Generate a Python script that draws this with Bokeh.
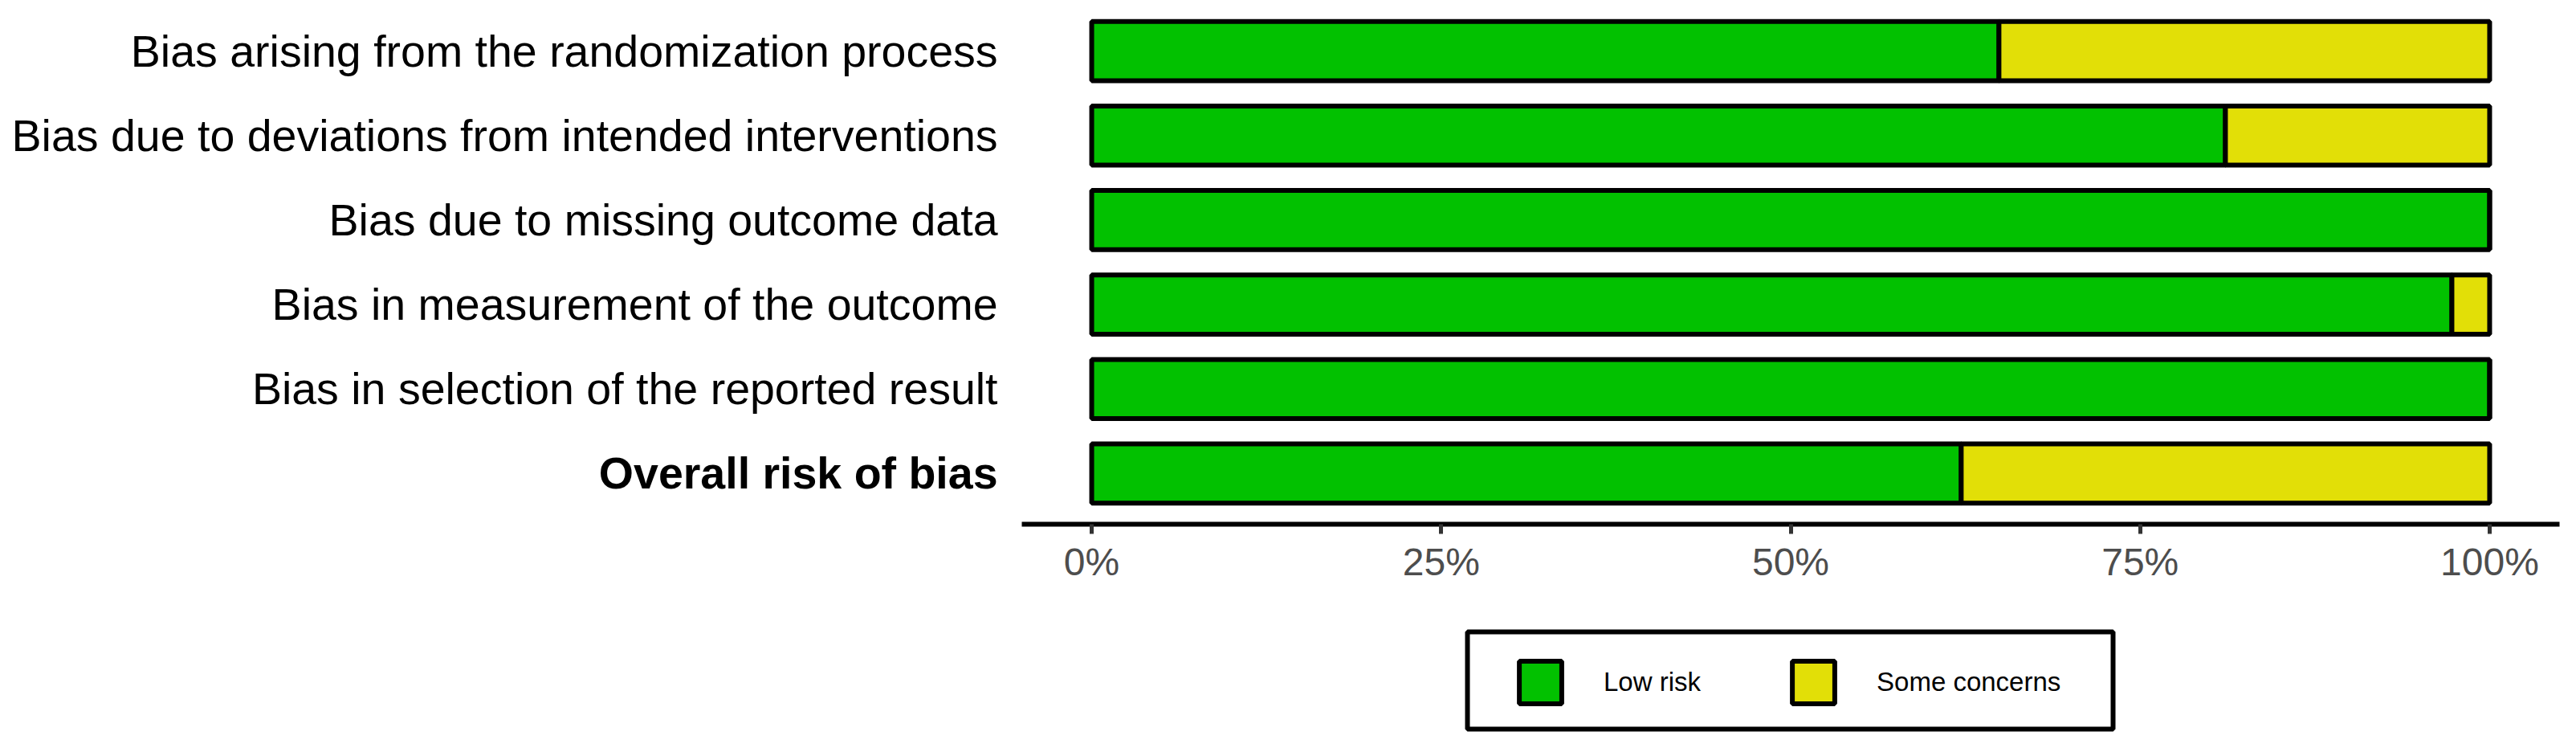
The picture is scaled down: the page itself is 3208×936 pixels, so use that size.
from bokeh.plotting import figure
from bokeh.layouts import column, row
from bokeh.models import (Range1d, FixedTicker, PrintfTickFormatter,
                          Legend, LegendItem, BoxAnnotation, ColumnDataSource)
from bokeh.core.properties import value
from bokeh.embed import file_html
from bokeh.resources import INLINE

# Risk-of-bias summary (percentage of studies per judgement)
domains = [
    "Bias arising from the randomization process",
    "Bias due to deviations from intended interventions",
    "Bias due to missing outcome data",
    "Bias in measurement of the outcome",
    "Bias in selection of the reported result",
    "Overall risk of bias",
]
rows = [1, 2, 3, 4, 5, 6]
low_risk = [64.9, 81.1, 100.0, 97.3, 100.0, 62.2]
some_concerns = [35.1, 18.9, 0.0, 2.7, 0.0, 37.8]
x_ticks = [0, 25, 50, 75, 100]
judgements = ["Low risk", "Some concerns"]

GREEN = "#02C100"
YELLOW = "#E2DF07"
FONT = "Liberation Sans"

y_range = Range1d(6.6, 0.4)


def bare(fig):
    fig.xgrid.visible = False
    fig.ygrid.visible = False
    fig.outline_line_color = None
    fig.background_fill_color = "white"
    fig.border_fill_color = "white"
    return fig


# ---- domain names -------------------------------------------------------
lab = bare(figure(width=1272, height=760, x_range=Range1d(0, 1), y_range=y_range,
                  output_backend="svg", toolbar_location=None,
                  x_axis_location=None, y_axis_location=None,
                  min_border_left=0, min_border_right=0,
                  min_border_top=0, min_border_bottom=108))
names = ColumnDataSource(dict(x=[1] * 5, y=rows[:5], text=domains[:5]))
lab.text(x="x", y="y", text="text", source=names, x_offset=-30,
         text_align="right", text_baseline="middle",
         text_font=value(FONT), text_font_size="55.5px", text_color="black")
overall = ColumnDataSource(dict(x=[1], y=rows[5:], text=domains[5:]))
lab.text(x="x", y="y", text="text", source=overall, x_offset=-30,
         text_align="right", text_baseline="middle",
         text_font=value(FONT), text_font_size="55.5px",
         text_font_style="bold", text_color="black")

# ---- stacked bars -------------------------------------------------------
src = ColumnDataSource(dict(row=rows, low=low_risk, some=some_concerns))

p = bare(figure(width=1936, height=760,
                x_range=Range1d(-5, 105), y_range=y_range,
                output_backend="svg", toolbar_location=None,
                y_axis_location=None,
                min_border_left=0, min_border_right=21,
                min_border_top=0, min_border_bottom=108))

p.hbar_stack(["low", "some"], y="row", height=0.7, source=src,
             fill_color=[GREEN, YELLOW], line_color="black", line_width=6)

ax = p.xaxis[0]
ax.ticker = FixedTicker(ticks=x_ticks)
ax.formatter = PrintfTickFormatter(format="%d%%")
ax.axis_line_width = 6
ax.axis_line_color = "black"
ax.major_tick_line_width = 5
ax.major_tick_line_color = "#333333"
ax.major_tick_in = 0
ax.major_tick_out = 12
ax.minor_tick_line_color = None
ax.major_label_text_font = FONT
ax.major_label_text_font_size = "48px"
ax.major_label_text_color = "#4D4D4D"
ax.major_label_standoff = 8

# ---- legend -------------------------------------------------------------
leg = bare(figure(width=3208, height=176, x_range=Range1d(0, 1), y_range=Range1d(0, 1),
                  output_backend="svg", toolbar_location=None,
                  x_axis_location=None, y_axis_location=None,
                  min_border_left=0, min_border_right=0,
                  min_border_top=0, min_border_bottom=0))

# key swatches: one off-canvas box per judgement, used only for the legend keys
keys = []
for colour in [GREEN, YELLOW]:
    key_src = ColumnDataSource(dict(y=[-1.0], left=[0.0], right=[0.0]))
    keys.append(leg.hbar(y="y", left="left", right="right", height=0.1,
                         source=key_src, fill_color=colour,
                         line_color="black", line_width=6))

leg.add_layout(BoxAnnotation(left=1827, right=2631, top=29, bottom=150,
                             left_units="screen", right_units="screen",
                             top_units="screen", bottom_units="screen",
                             fill_alpha=0, line_color="black", line_width=6,
                             line_alpha=1))

legend = Legend(items=[LegendItem(label=j, renderers=[k]) for j, k in zip(judgements, keys)],
                orientation="horizontal", location=(1885, 54),
                padding=0, margin=0, spacing=107, label_standoff=46,
                glyph_width=66, glyph_height=66,
                border_line_color=None, background_fill_alpha=0,
                label_text_font=FONT, label_text_font_size="33px",
                label_text_color="black")
leg.add_layout(legend)

page = column(row(lab, p, spacing=0), leg, spacing=0)

open("out.html", "w").write(file_html(page, INLINE))
